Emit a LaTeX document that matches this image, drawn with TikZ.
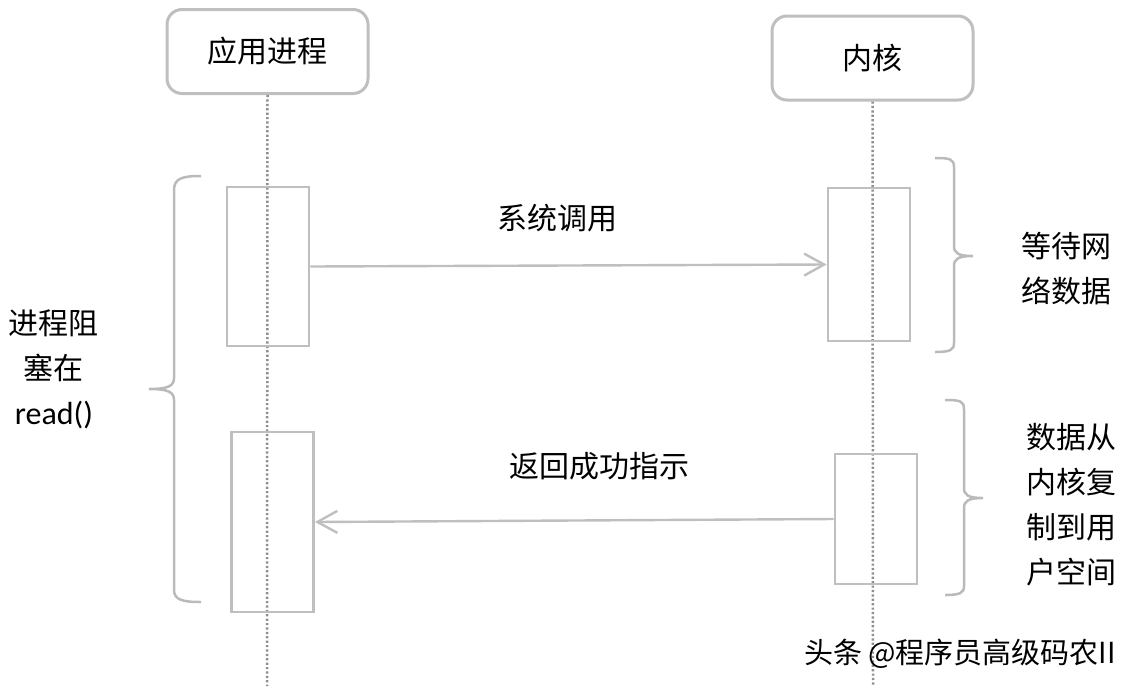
\documentclass[tikz,border=0pt]{standalone}
\usepackage{fontspec}
\setmainfont{Noto Sans CJK SC}
\newfontfamily\latinf{Carlito}
\usetikzlibrary{arrows.meta}
\definecolor{boxgray}{HTML}{BFBFBF}
\definecolor{lifegray}{HTML}{8F8F8F}
\definecolor{bracegray}{HTML}{BABABA}
\begin{document}
\begin{tikzpicture}[x=1pt,y=-1pt,
  head/.style={draw=boxgray, line width=3pt, rounded corners=15pt, minimum width=201pt, minimum height=84pt, inner sep=0pt, font=\fontsize{30}{34}\selectfont},
  act/.style={draw=boxgray, line width=2.8pt, minimum width=82pt, inner sep=0pt},
  life/.style={draw=lifegray, line width=2.5pt, dash pattern=on 2.2pt off 2.2pt},
  msg/.style={draw=boxgray, line width=2.4pt, -{Straight Barb[length=20pt,width=22pt,line width=2.4pt]}},
  brace/.style={draw=bracegray, line width=2.5pt},
  lbl/.style={font=\fontsize{30}{45}\selectfont, align=center, inner sep=0pt}
]
\useasboundingbox (0,0) rectangle (1129,686);
% heads
\node[head] (p) at (267.5,51.5) {应用进程};
\node[head] (k) at (872.5,58) {内核};
\coordinate (pend) at (267,686);
\coordinate (kend) at (873,686);
\draw[life] (p.south) -- (pend);
\draw[life] (k.south) -- (kend);
% activation boxes
\node[act, minimum height=159pt] (a1) at (268,266.5) {};
\node[act, minimum height=180pt] (a2) at (272.5,522) {};
\node[act, minimum height=153pt] (b1) at (869,264.5) {};
\node[act, minimum height=130pt] (b2) at (876,519) {};
% messages
\draw[msg] (a1.east) -- (b1.west);
\draw[msg] (b2.west) -- (a2.east);
\node[lbl] (m1) at (557,218) {系统调用};
\node[lbl] (m2) at (599,466) {返回成功指示};
% braces
\draw[brace] (201,176) .. controls (183,176) and (174,178) .. (174,190) -- (174,378)
  .. controls (174,386) and (168,389) .. (149,389)
  .. controls (168,389) and (174,392) .. (174,400) -- (174,590)
  .. controls (174,600) and (183,602) .. (201,602);
\draw[brace] (935,158) .. controls (950,158) and (954,159) .. (954,167) -- (954,246)
  .. controls (954,253) and (958,256) .. (973,256)
  .. controls (958,256) and (954,259) .. (954,266) -- (954,343)
  .. controls (954,350) and (950,352) .. (935,352);
\draw[brace] (945,400) .. controls (960,400) and (964,401) .. (964,409) -- (964,488)
  .. controls (964,495) and (968,498) .. (983,498)
  .. controls (968,498) and (964,501) .. (964,508) -- (964,586)
  .. controls (964,593) and (960,595) .. (945,595);
% side labels
\node[lbl] (t1) at (54,369) {进程阻\\塞在\\{\latinf\fontsize{32}{45}\selectfont read()}};
\node[lbl] (t2) at (1066,269) {等待网\\络数据};
\node[lbl] (t3) at (1071,505) {数据从\\内核复\\制到用\\户空间};
% watermark
\node[font=\fontsize{29}{32}\selectfont, inner sep=0pt] (w) at (960,654) {头条 @程序员高级码农II};
\end{tikzpicture}
\end{document}
